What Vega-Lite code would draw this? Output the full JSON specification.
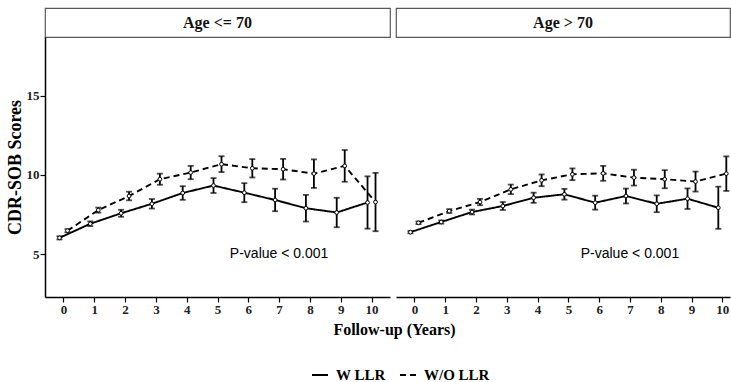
{
  "$schema": "https://vega.github.io/schema/vega-lite/v6.json",
  "padding": {"left": 6, "top": 7, "right": 0, "bottom": 0},
  "datasets": {
    "scores": [
      {"panel": "Age <= 70", "group": "W LLR", "year": 0, "mean": 6.03, "lo": 5.93, "hi": 6.13},
      {"panel": "Age <= 70", "group": "W LLR", "year": 1, "mean": 6.92, "lo": 6.77, "hi": 7.07},
      {"panel": "Age <= 70", "group": "W LLR", "year": 2, "mean": 7.58, "lo": 7.36, "hi": 7.8},
      {"panel": "Age <= 70", "group": "W LLR", "year": 3, "mean": 8.18, "lo": 7.88, "hi": 8.48},
      {"panel": "Age <= 70", "group": "W LLR", "year": 4, "mean": 8.86, "lo": 8.43, "hi": 9.29},
      {"panel": "Age <= 70", "group": "W LLR", "year": 5, "mean": 9.33, "lo": 8.86, "hi": 9.8},
      {"panel": "Age <= 70", "group": "W LLR", "year": 6, "mean": 8.88, "lo": 8.28, "hi": 9.48},
      {"panel": "Age <= 70", "group": "W LLR", "year": 7, "mean": 8.42, "lo": 7.71, "hi": 9.13},
      {"panel": "Age <= 70", "group": "W LLR", "year": 8, "mean": 7.9, "lo": 7.06, "hi": 8.74},
      {"panel": "Age <= 70", "group": "W LLR", "year": 9, "mean": 7.63, "lo": 6.7, "hi": 8.56},
      {"panel": "Age <= 70", "group": "W LLR", "year": 10, "mean": 8.26, "lo": 6.61, "hi": 9.91},
      {"panel": "Age <= 70", "group": "W/O LLR", "year": 0, "mean": 6.48, "lo": 6.38, "hi": 6.58},
      {"panel": "Age <= 70", "group": "W/O LLR", "year": 1, "mean": 7.78, "lo": 7.62, "hi": 7.94},
      {"panel": "Age <= 70", "group": "W/O LLR", "year": 2, "mean": 8.67, "lo": 8.4, "hi": 8.94},
      {"panel": "Age <= 70", "group": "W/O LLR", "year": 3, "mean": 9.73, "lo": 9.38, "hi": 10.08},
      {"panel": "Age <= 70", "group": "W/O LLR", "year": 4, "mean": 10.15, "lo": 9.73, "hi": 10.57},
      {"panel": "Age <= 70", "group": "W/O LLR", "year": 5, "mean": 10.68, "lo": 10.18, "hi": 11.18},
      {"panel": "Age <= 70", "group": "W/O LLR", "year": 6, "mean": 10.42, "lo": 9.84, "hi": 11.0},
      {"panel": "Age <= 70", "group": "W/O LLR", "year": 7, "mean": 10.36, "lo": 9.71, "hi": 11.01},
      {"panel": "Age <= 70", "group": "W/O LLR", "year": 8, "mean": 10.08, "lo": 9.18, "hi": 10.98},
      {"panel": "Age <= 70", "group": "W/O LLR", "year": 9, "mean": 10.57, "lo": 9.57, "hi": 11.57},
      {"panel": "Age <= 70", "group": "W/O LLR", "year": 10, "mean": 8.29, "lo": 6.45, "hi": 10.13},
      {"panel": "Age > 70", "group": "W LLR", "year": 0, "mean": 6.39, "lo": 6.32, "hi": 6.46},
      {"panel": "Age > 70", "group": "W LLR", "year": 1, "mean": 7.03, "lo": 6.93, "hi": 7.13},
      {"panel": "Age > 70", "group": "W LLR", "year": 2, "mean": 7.66, "lo": 7.51, "hi": 7.81},
      {"panel": "Age > 70", "group": "W LLR", "year": 3, "mean": 8.04, "lo": 7.79, "hi": 8.29},
      {"panel": "Age > 70", "group": "W LLR", "year": 4, "mean": 8.56, "lo": 8.24, "hi": 8.88},
      {"panel": "Age > 70", "group": "W LLR", "year": 5, "mean": 8.78, "lo": 8.44, "hi": 9.12},
      {"panel": "Age > 70", "group": "W LLR", "year": 6, "mean": 8.25, "lo": 7.81, "hi": 8.69},
      {"panel": "Age > 70", "group": "W LLR", "year": 7, "mean": 8.67, "lo": 8.2, "hi": 9.14},
      {"panel": "Age > 70", "group": "W LLR", "year": 8, "mean": 8.18, "lo": 7.65, "hi": 8.71},
      {"panel": "Age > 70", "group": "W LLR", "year": 9, "mean": 8.5, "lo": 7.85, "hi": 9.15},
      {"panel": "Age > 70", "group": "W LLR", "year": 10, "mean": 7.93, "lo": 6.6, "hi": 9.26},
      {"panel": "Age > 70", "group": "W/O LLR", "year": 0, "mean": 6.98, "lo": 6.9, "hi": 7.06},
      {"panel": "Age > 70", "group": "W/O LLR", "year": 1, "mean": 7.72, "lo": 7.6, "hi": 7.84},
      {"panel": "Age > 70", "group": "W/O LLR", "year": 2, "mean": 8.29, "lo": 8.09, "hi": 8.49},
      {"panel": "Age > 70", "group": "W/O LLR", "year": 3, "mean": 9.09, "lo": 8.79, "hi": 9.39},
      {"panel": "Age > 70", "group": "W/O LLR", "year": 4, "mean": 9.66, "lo": 9.29, "hi": 10.03},
      {"panel": "Age > 70", "group": "W/O LLR", "year": 5, "mean": 10.04, "lo": 9.67, "hi": 10.41},
      {"panel": "Age > 70", "group": "W/O LLR", "year": 6, "mean": 10.1, "lo": 9.63, "hi": 10.57},
      {"panel": "Age > 70", "group": "W/O LLR", "year": 7, "mean": 9.83, "lo": 9.33, "hi": 10.33},
      {"panel": "Age > 70", "group": "W/O LLR", "year": 8, "mean": 9.73, "lo": 9.16, "hi": 10.3},
      {"panel": "Age > 70", "group": "W/O LLR", "year": 9, "mean": 9.58, "lo": 8.95, "hi": 10.21},
      {"panel": "Age > 70", "group": "W/O LLR", "year": 10, "mean": 10.08, "lo": 8.99, "hi": 11.17}
    ]
  },
  "columns": 2,
  "spacing": {"row": 0, "column": 6},
  "bounds": "flush",
  "align": "each",
  "resolve": {"scale": {"x": "independent", "y": "independent"}},
  "concat": [
    {
      "width": 345, "height": 29,
      "data": {"values": [{"panel": "Age <= 70"}]},
      "mark": {"type": "text", "font": "Liberation Serif", "fontWeight": "bold", "fontSize": 16, "color": "#111"},
      "encoding": {"text": {"field": "panel", "type": "nominal"}},
      "view": {"stroke": "#5a5a5a", "strokeWidth": 1.2, "fill": "white"}
    },
    {
      "width": 334, "height": 29,
      "data": {"values": [{"panel": "Age > 70"}]},
      "mark": {"type": "text", "font": "Liberation Serif", "fontWeight": "bold", "fontSize": 16, "color": "#111"},
      "encoding": {"text": {"field": "panel", "type": "nominal"}},
      "view": {"stroke": "#5a5a5a", "strokeWidth": 1.2, "fill": "white"}
    },
    {
      "width": 345, "height": 260,
      "encoding": {
        "x": {"field": "year", "type": "quantitative", "scale": {"domain": [-0.6, 10.6], "nice": false, "zero": false},
              "axis": {"values": [0,1,2,3,4,5,6,7,8,9,10], "title": "Follow-up (Years)", "titleX": 349, "titleAlign": "center", "titlePadding": 5}},
        "y": {"field": "mean", "type": "quantitative", "scale": {"domain": [2.3, 18.7], "nice": false, "zero": false},
              "axis": {"values": [5, 10, 15], "title": "CDR-SOB Scores", "titleFontSize": 18, "titlePadding": 2}}
      },
      "layer": [
        {
          "data": {"name": "scores"},
          "transform": [{"filter": "datum.panel === 'Age <= 70' && datum.group === 'W LLR'"}],
          "layer": [
            {"mark": {"type": "line", "color": "black", "strokeWidth": 1.9, "xOffset": -4},
             "encoding": {"strokeDash": {"field": "group", "type": "nominal", "scale": {"domain": ["W LLR", "W/O LLR"], "range": [[1, 0], [6, 4]]},
                          "legend": {"title": null, "orient": "none", "direction": "horizontal", "legendX": 266, "legendY": 358}}}},
            {"mark": {"type": "rule", "color": "black", "strokeWidth": 1.8, "xOffset": -4}, "encoding": {"y": {"field": "lo", "type": "quantitative"}, "y2": {"field": "hi"}}},
            {"mark": {"type": "tick", "orient": "horizontal", "color": "black", "size": 6, "thickness": 1.8, "xOffset": -4}, "encoding": {"y": {"field": "lo", "type": "quantitative"}}},
            {"mark": {"type": "tick", "orient": "horizontal", "color": "black", "size": 6, "thickness": 1.8, "xOffset": -4}, "encoding": {"y": {"field": "hi", "type": "quantitative"}}},
            {"mark": {"type": "point", "filled": true, "fill": "white", "stroke": "black", "strokeWidth": 1, "size": 14, "opacity": 1, "xOffset": -4}}
          ]
        },
        {
          "data": {"name": "scores"},
          "transform": [{"filter": "datum.panel === 'Age <= 70' && datum.group === 'W/O LLR'"}],
          "layer": [
            {"mark": {"type": "line", "color": "black", "strokeWidth": 1.9, "xOffset": 4},
             "encoding": {"strokeDash": {"field": "group", "type": "nominal", "scale": {"domain": ["W LLR", "W/O LLR"], "range": [[1, 0], [6, 4]]},
                          "legend": {"title": null, "orient": "none", "direction": "horizontal", "legendX": 266, "legendY": 358}}}},
            {"mark": {"type": "rule", "color": "black", "strokeWidth": 1.8, "xOffset": 4}, "encoding": {"y": {"field": "lo", "type": "quantitative"}, "y2": {"field": "hi"}}},
            {"mark": {"type": "tick", "orient": "horizontal", "color": "black", "size": 6, "thickness": 1.8, "xOffset": 4}, "encoding": {"y": {"field": "lo", "type": "quantitative"}}},
            {"mark": {"type": "tick", "orient": "horizontal", "color": "black", "size": 6, "thickness": 1.8, "xOffset": 4}, "encoding": {"y": {"field": "hi", "type": "quantitative"}}},
            {"mark": {"type": "point", "filled": true, "fill": "white", "stroke": "black", "strokeWidth": 1, "size": 14, "opacity": 1, "xOffset": 4}}
          ]
        },
        {
          "data": {"values": [{"year": 7, "mean": 5, "label": "P-value < 0.001"}]},
          "mark": {"type": "text", "font": "Liberation Sans", "fontSize": 14, "color": "black"},
          "encoding": {"text": {"field": "label", "type": "nominal"}}
        }
      ]
    },
    {
      "width": 334, "height": 260,
      "encoding": {
        "x": {"field": "year", "type": "quantitative", "scale": {"domain": [-0.6, 10.25], "nice": false, "zero": false},
              "axis": {"values": [0,1,2,3,4,5,6,7,8,9,10], "title": null}},
        "y": {"field": "mean", "type": "quantitative", "scale": {"domain": [2.3, 18.7], "nice": false, "zero": false}, "axis": null}
      },
      "layer": [
        {
          "data": {"name": "scores"},
          "transform": [{"filter": "datum.panel === 'Age > 70' && datum.group === 'W LLR'"}],
          "layer": [
            {"mark": {"type": "line", "color": "black", "strokeWidth": 1.9, "xOffset": -4},
             "encoding": {"strokeDash": {"field": "group", "type": "nominal", "scale": {"domain": ["W LLR", "W/O LLR"], "range": [[1, 0], [6, 4]]},
                          "legend": {"title": null, "orient": "none", "direction": "horizontal", "legendX": 266, "legendY": 358}}}},
            {"mark": {"type": "rule", "color": "black", "strokeWidth": 1.8, "xOffset": -4}, "encoding": {"y": {"field": "lo", "type": "quantitative"}, "y2": {"field": "hi"}}},
            {"mark": {"type": "tick", "orient": "horizontal", "color": "black", "size": 6, "thickness": 1.8, "xOffset": -4}, "encoding": {"y": {"field": "lo", "type": "quantitative"}}},
            {"mark": {"type": "tick", "orient": "horizontal", "color": "black", "size": 6, "thickness": 1.8, "xOffset": -4}, "encoding": {"y": {"field": "hi", "type": "quantitative"}}},
            {"mark": {"type": "point", "filled": true, "fill": "white", "stroke": "black", "strokeWidth": 1, "size": 14, "opacity": 1, "xOffset": -4}}
          ]
        },
        {
          "data": {"name": "scores"},
          "transform": [{"filter": "datum.panel === 'Age > 70' && datum.group === 'W/O LLR'"}],
          "layer": [
            {"mark": {"type": "line", "color": "black", "strokeWidth": 1.9, "xOffset": 4},
             "encoding": {"strokeDash": {"field": "group", "type": "nominal", "scale": {"domain": ["W LLR", "W/O LLR"], "range": [[1, 0], [6, 4]]},
                          "legend": {"title": null, "orient": "none", "direction": "horizontal", "legendX": 266, "legendY": 358}}}},
            {"mark": {"type": "rule", "color": "black", "strokeWidth": 1.8, "xOffset": 4}, "encoding": {"y": {"field": "lo", "type": "quantitative"}, "y2": {"field": "hi"}}},
            {"mark": {"type": "tick", "orient": "horizontal", "color": "black", "size": 6, "thickness": 1.8, "xOffset": 4}, "encoding": {"y": {"field": "lo", "type": "quantitative"}}},
            {"mark": {"type": "tick", "orient": "horizontal", "color": "black", "size": 6, "thickness": 1.8, "xOffset": 4}, "encoding": {"y": {"field": "hi", "type": "quantitative"}}},
            {"mark": {"type": "point", "filled": true, "fill": "white", "stroke": "black", "strokeWidth": 1, "size": 14, "opacity": 1, "xOffset": 4}}
          ]
        },
        {
          "data": {"values": [{"year": 7, "mean": 5, "label": "P-value < 0.001"}]},
          "mark": {"type": "text", "font": "Liberation Sans", "fontSize": 14, "color": "black"},
          "encoding": {"text": {"field": "label", "type": "nominal"}}
        }
      ]
    }
  ],
  "config": {
    "view": {"stroke": null},
    "font": "Liberation Serif",
    "axis": {
      "grid": false,
      "domainColor": "black", "domainWidth": 1.5,
      "tickColor": "black", "tickWidth": 1.2, "tickSize": 5,
      "labelFont": "Liberation Serif", "labelFontWeight": "bold", "labelFontSize": 13, "labelColor": "#222", "labelPadding": 1,
      "titleFont": "Liberation Serif", "titleFontWeight": "bold", "titleFontSize": 16, "titleColor": "black"
    },
    "legend": {
      "labelFont": "Liberation Serif", "labelFontWeight": "bold", "labelFontSize": 15, "labelColor": "black",
      "symbolType": "stroke", "symbolStrokeColor": "black", "symbolStrokeWidth": 2, "symbolSize": 256,
      "labelOffset": 7, "columnPadding": 10
    }
  }
}
